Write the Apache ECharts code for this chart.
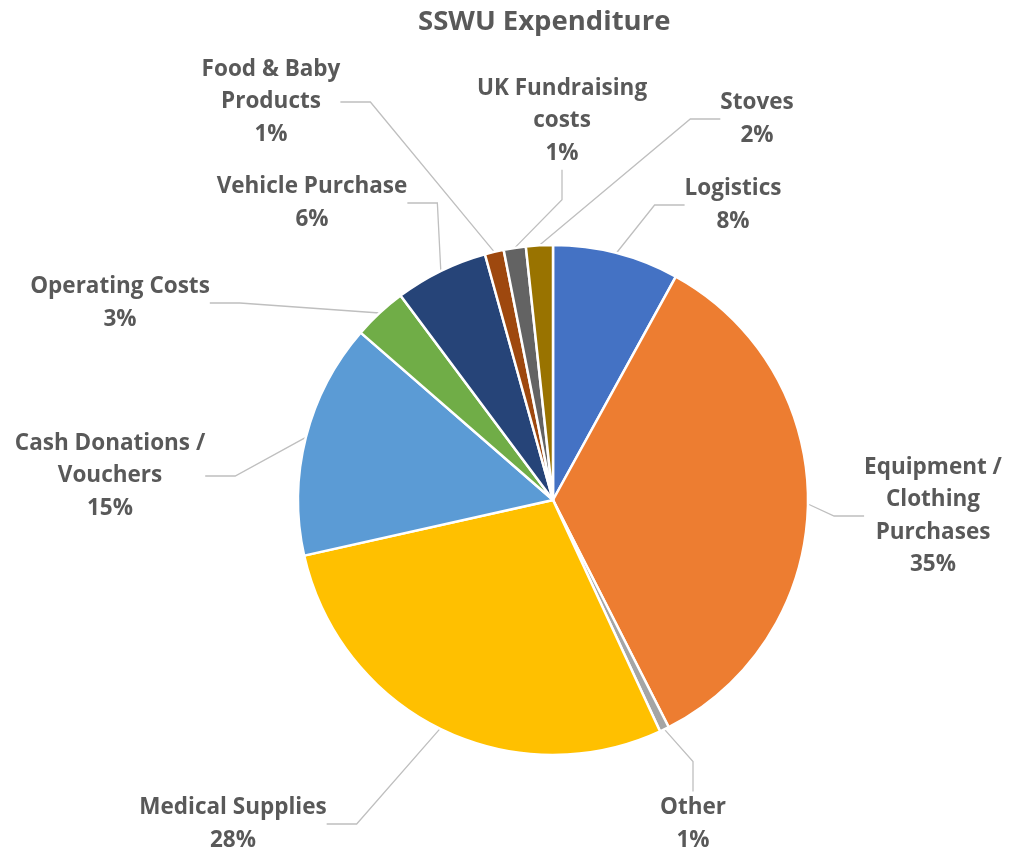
<!DOCTYPE html>
<html>
<head>
<meta charset="utf-8">
<script src="https://cdn.jsdelivr.net/npm/echarts@6/dist/echarts.min.js"></script>
<style>html,body{margin:0;padding:0;background:#fff}#c{width:1017px;height:852px}</style>
</head>
<body>
<div id="c"></div>
<script>
const categories = ['Logistics', 'Equipment /\nClothing\nPurchases', 'Other', 'Medical Supplies', 'Cash Donations /\nVouchers', 'Operating Costs', 'Vehicle Purchase', 'Food & Baby\nProducts', 'UK Fundraising\ncosts', 'Stoves'];
const values = [8.0, 34.5, 0.6, 28.4, 14.9, 3.4, 5.9, 1.2, 1.4, 1.7];
const colors = ['#4472C4', '#ED7D31', '#A5A5A5', '#FFC000', '#5B9BD5', '#70AD47', '#264478', '#9E480E', '#636363', '#997300'];
const labelPos = [[733,205],[933,516],[693,824],[233,824],[110,476],[120,303],[312,203],[271,102],[562,121],[757,119]];

const chart = echarts.init(document.getElementById('c'));
chart.setOption({
  animation: false,
  title: {
    text: 'SSWU Expenditure', left: 413, top: 3, itemGap: 0,
    textStyle: { fontFamily: 'Open Sans', fontWeight: 'bold', fontSize: 27.5, color: '#595959' }
  },
  series: [{
    type: 'pie',
    center: [553, 500],
    radius: 255,
    startAngle: 90,
    clockwise: true,
    itemStyle: { borderColor: '#fff', borderWidth: 2.5 },
    label: {
      show: true,
      position: 'outside',
      formatter: p => p.name + '\n' + Math.round(p.percent) + '%',
      fontFamily: 'Open Sans', fontWeight: 'bold', fontSize: 22.5, lineHeight: 32.5,
      color: '#595959', align: 'center'
    },
    labelLine: { show: true, lineStyle: { color: '#BFBFBF', width: 1.3 } },
    labelLayout: p => {
      const pos = labelPos[p.dataIndex];
      return { x: pos[0], y: pos[1], align: 'center', verticalAlign: 'middle' };
    },
    data: categories.map((c, i) => ({ name: c, value: values[i], itemStyle: { color: colors[i] } }))
  }]
});
</script>
</body>
</html>
